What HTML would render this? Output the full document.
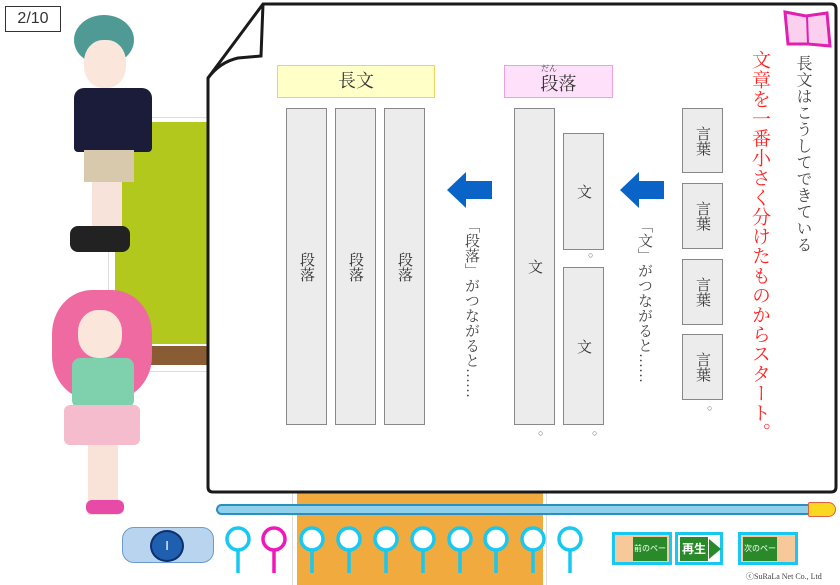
<!DOCTYPE html>
<html><head><meta charset="utf-8"><style>
*{margin:0;padding:0;box-sizing:border-box}
body{width:840px;height:585px;background:#fff;position:relative;overflow:hidden;font-family:"Liberation Sans","Noto Sans CJK JP",sans-serif}
.a{position:absolute}
.box{position:absolute;background:#ececec;border:1.5px solid #888;display:flex;align-items:center;justify-content:center;writing-mode:vertical-rl;font-size:15px;color:#333;font-family:"Liberation Serif","Noto Serif CJK SC",serif}
.v{position:absolute;writing-mode:vertical-rl;white-space:nowrap;font-family:"Liberation Serif","Noto Serif CJK SC",serif}
</style></head><body>
<div class="a" style="left:5px;top:6px;width:56px;height:26px;border:1.5px solid #333;font-size:16px;text-align:center;line-height:23px;color:#333">2/10</div>
<div class="a" style="left:108px;top:117px;width:110px;height:255px;background:#fff;border:1px solid #ddd"></div>
<div class="a" style="left:115px;top:122px;width:100px;height:222px;background:#b2c81c"></div>
<div class="a" style="left:115px;top:346px;width:100px;height:19px;background:#8a5c33"></div>
<div class="a" style="left:297px;top:493px;width:246px;height:92px;background:#f0aa3e"></div>
<div class="a" style="left:292px;top:493px;width:1px;height:92px;background:#ddd"></div>
<div class="a" style="left:546px;top:493px;width:1px;height:92px;background:#ddd"></div>
<div class="a" style="left:74px;top:15px;width:60px;height:50px;border-radius:50%;background:#4f9a94"></div>
<div class="a" style="left:84px;top:40px;width:42px;height:48px;border-radius:45%;background:#fbe6dc"></div>
<div class="a" style="left:74px;top:88px;width:78px;height:64px;background:#1b1c3a;border-radius:10px 10px 4px 4px"></div>
<div class="a" style="left:84px;top:150px;width:50px;height:32px;background:#d8c9ad"></div>
<div class="a" style="left:92px;top:182px;width:30px;height:45px;background:#f7e3d9"></div>
<div class="a" style="left:70px;top:226px;width:60px;height:26px;background:#222;border-radius:8px"></div>
<div class="a" style="left:52px;top:290px;width:100px;height:110px;border-radius:40%;background:#ee6aa0"></div>
<div class="a" style="left:78px;top:310px;width:44px;height:48px;border-radius:45%;background:#fbe6dc"></div>
<div class="a" style="left:72px;top:358px;width:62px;height:50px;background:#7fd0ad;border-radius:8px"></div>
<div class="a" style="left:64px;top:405px;width:76px;height:40px;background:#f4bccd;border-radius:6px"></div>
<div class="a" style="left:88px;top:445px;width:30px;height:70px;background:#f9e3d8"></div>
<div class="a" style="left:86px;top:500px;width:38px;height:14px;background:#e84aa7;border-radius:6px"></div>
<div class="a" style="left:122px;top:527px;width:92px;height:36px;background:#b8d4ee;border-radius:12px;border:1px solid #6a9ccc"></div>
<div class="a" style="left:150px;top:530px;width:34px;height:32px;background:#1f5fb0;border-radius:50%;border:2px solid #0d2f70;color:#fff;text-align:center;line-height:28px;font-size:13px">I</div>
<svg class="a" style="left:0;top:0" width="840" height="500">
<path d="M263,4 L831,4 Q836,4 836,9 L836,487 Q836,492 831,492 L213,492 Q208,492 208,487 L208,78 Z" fill="#fff" stroke="#1a1a1a" stroke-width="3"/>
<path d="M263,4 L261,56 L238,58 Q220,62 208,78" fill="none" stroke="#1a1a1a" stroke-width="3"/>
<path d="M785,12 L806,16 L827,13 L830,46 L808,44 L788,44 Z" fill="#fbd0ee" stroke="#e020b0" stroke-width="3"/>
<line x1="807" y1="16" x2="808" y2="44" stroke="#e020b0" stroke-width="2"/>
<path d="M447,190 L466,172 L466,181 L492,181 L492,199 L466,199 L466,208 Z" fill="#0a64c8"/>
<path d="M620,190 L639,172 L639,181 L664,181 L664,199 L639,199 L639,208 Z" fill="#0a64c8"/>
</svg>
<div class="a" style="left:277px;top:65px;width:158px;height:33px;background:#ffffc8;border:1.5px solid #f6d060;text-align:center;line-height:31px;font-size:18px;font-family:'Liberation Serif','Noto Serif CJK SC',serif;color:#333">長文</div>
<div class="a" style="left:504px;top:65px;width:109px;height:33px;background:#ffe0fa;border:1.5px solid #f0a0dd;text-align:center;line-height:36px;font-size:18px;font-family:'Liberation Serif','Noto Serif CJK SC',serif;color:#333">段落<span style="position:absolute;left:36px;top:-15px;font-size:8px">だん</span></div>
<div class="box" style="left:286px;top:108px;width:41px;height:317px">段落</div>
<div class="box" style="left:335px;top:108px;width:41px;height:317px">段落</div>
<div class="box" style="left:384px;top:108px;width:41px;height:317px">段落</div>
<div class="box" style="left:514px;top:108px;width:41px;height:317px">文</div>
<div class="box" style="left:563px;top:133px;width:41px;height:117px">文</div>
<div class="box" style="left:563px;top:267px;width:41px;height:158px">文</div>
<div class="box" style="left:682px;top:108px;width:41px;height:65px">言葉</div>
<div class="box" style="left:682px;top:183px;width:41px;height:66px">言葉</div>
<div class="box" style="left:682px;top:259px;width:41px;height:66px">言葉</div>
<div class="box" style="left:682px;top:334px;width:41px;height:66px">言葉</div>
<div class="a" style="left:588px;top:250px;font-size:9px;color:#555">○</div>
<div class="a" style="left:538px;top:428px;font-size:9px;color:#555">○</div>
<div class="a" style="left:592px;top:428px;font-size:9px;color:#555">○</div>
<div class="a" style="left:707px;top:403px;font-size:9px;color:#555">○</div>
<div class="v" style="left:461px;top:218px;font-size:15px;color:#444">「段落」がつながると……</div>
<div class="v" style="left:634px;top:218px;font-size:15px;color:#444">「文」がつながると……</div>
<div class="v" style="left:746px;top:50px;font-size:19px;color:#f22;letter-spacing:0.6px">文章を一番小さく分けたものからスタート。</div>
<div class="v" style="left:791px;top:55px;font-size:16px;color:#444;letter-spacing:0.5px">長文はこうしてできている</div>
<div class="a" style="left:216px;top:504px;width:600px;height:11px;background:#8fd0ea;border:2px solid #2a8ec0;border-radius:6px"></div>
<div class="a" style="left:808px;top:502px;width:28px;height:15px;background:#f8d820;border:1.5px solid #e06040;border-radius:2px 8px 8px 2px"></div>
<svg class="a" style="left:0;top:520px" width="840" height="65">
<g fill="#fff" stroke-width="3.5">
<g stroke="#18c8f0"><circle cx="238" cy="19" r="11"/><line x1="238" y1="30" x2="238" y2="53"/></g>
<g stroke="#f018b8"><circle cx="274" cy="19" r="11"/><line x1="274" y1="30" x2="274" y2="53"/></g>
<g stroke="#18c8f0">
<circle cx="312" cy="19" r="11"/><line x1="312" y1="30" x2="312" y2="53"/>
<circle cx="349" cy="19" r="11"/><line x1="349" y1="30" x2="349" y2="53"/>
<circle cx="386" cy="19" r="11"/><line x1="386" y1="30" x2="386" y2="53"/>
<circle cx="423" cy="19" r="11"/><line x1="423" y1="30" x2="423" y2="53"/>
<circle cx="460" cy="19" r="11"/><line x1="460" y1="30" x2="460" y2="53"/>
<circle cx="496" cy="19" r="11"/><line x1="496" y1="30" x2="496" y2="53"/>
<circle cx="533" cy="19" r="11"/><line x1="533" y1="30" x2="533" y2="53"/>
<circle cx="570" cy="19" r="11"/><line x1="570" y1="30" x2="570" y2="53"/>
</g></g>
</svg>
<div class="a" style="left:612px;top:532px;width:60px;height:33px;border:3px solid #18c8f0;background:#f6c89a"><div style="position:absolute;left:18px;top:2px;width:34px;height:24px;background:#2a8a2a;color:#fff;font-size:8px;line-height:24px;text-align:center">前のページ</div></div>
<div class="a" style="left:675px;top:532px;width:48px;height:33px;border:3px solid #18c8f0;background:#fff"><div style="position:absolute;left:2px;top:2px;width:28px;height:24px;background:#2a8a2a;color:#fff;font-size:12px;font-weight:bold;line-height:24px;text-align:center">再生</div><div style="position:absolute;left:31px;top:4px;width:0;height:0;border-left:12px solid #2a8a2a;border-top:10px solid transparent;border-bottom:10px solid transparent"></div></div>
<div class="a" style="left:738px;top:532px;width:60px;height:33px;border:3px solid #18c8f0;background:#f6c89a"><div style="position:absolute;left:2px;top:2px;width:34px;height:24px;background:#2a8a2a;color:#fff;font-size:8px;line-height:24px;text-align:center">次のページ</div></div>
<div class="a" style="left:746px;top:571px;font-size:8px;color:#444;font-family:'Liberation Serif',serif">ⓒSuRaLa Net Co., Ltd</div>
</body></html>
